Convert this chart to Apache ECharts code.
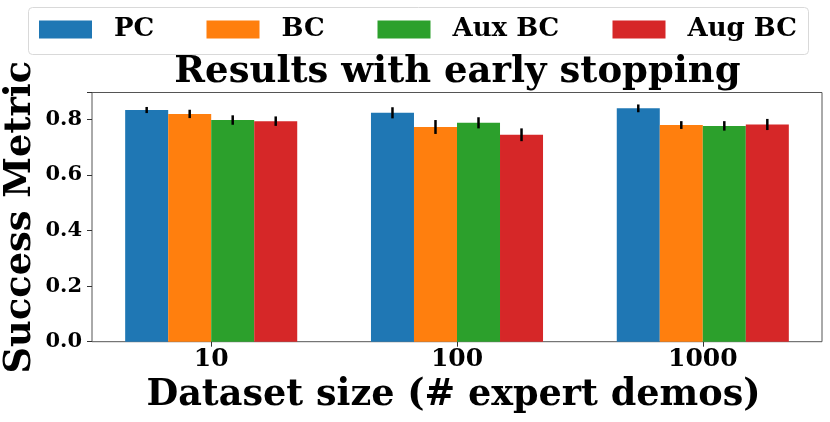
<!DOCTYPE html>
<html><head><meta charset="utf-8">
<script src="https://cdn.jsdelivr.net/npm/echarts@6/dist/echarts.min.js"></script>
<style>html,body{margin:0;padding:0;background:#fff}#c{width:830px;height:422px}</style>
</head><body><div id="c"></div>
<script>
var categories = ['10', '100', '1000'];
var seriesNames = ['PC', 'BC', 'Aux BC', 'Aug BC'];
var pcValues = [0.833, 0.823, 0.839];
var bcValues = [0.819, 0.772, 0.779];
var auxValues = [0.797, 0.787, 0.776];
var augValues = [0.793, 0.744, 0.781];
var pcErr = [0.011, 0.020, 0.014];
var bcErr = [0.015, 0.025, 0.014];
var auxErr = [0.017, 0.020, 0.017];
var augErr = [0.017, 0.023, 0.020];
var yTicks = ['0.0', '0.2', '0.4', '0.6', '0.8'];

var colors = ['#1f77b4', '#ff7f0e', '#2ca02c', '#d62728'];
var values = [pcValues, bcValues, auxValues, augValues];
var errs = [pcErr, bcErr, auxErr, augErr];
var FONT = '"DejaVu Serif", serif';
var BARFRAC = 0.175;
var YMAX = 0.896;

var series = [];
values.forEach(function (v, i) {
  series.push({
    name: seriesNames[i], type: 'bar', data: v, barWidth: (BARFRAC * 100) + '%', barGap: '0%',
    xAxisIndex: 0, yAxisIndex: 0,
    itemStyle: { color: colors[i] }, emphasis: { disabled: true }, z: 2
  });
});
values.forEach(function (v, i) {
  series.push({
    type: 'custom', name: 'err' + i, z: 5, xAxisIndex: 0, yAxisIndex: 0,
    data: v.map(function (val, j) { return [j, val - errs[i][j], val + errs[i][j]]; }),
    renderItem: function (params, api) {
      var band = api.size([1, 0])[0];
      var lo = api.coord([api.value(0), api.value(1)]);
      var hi = api.coord([api.value(0), api.value(2)]);
      var x = lo[0] + (i - 1.5) * band * BARFRAC;
      return { type: 'line', shape: { x1: x, y1: lo[1], x2: x, y2: hi[1] },
        style: { stroke: '#000', lineWidth: 2.5 } };
    },
    encode: { x: 0, y: [1, 2] }
  });
});

var legendLefts = [39, 206.5, 377.5, 612.5];
var legends = seriesNames.map(function (n, i) {
  return { data: [n], left: legendLefts[i], top: 16.5, padding: 0, itemWidth: 53, itemHeight: 18, icon: 'rect',
    selectedMode: false,
    textStyle: { fontFamily: FONT, fontWeight: 'bold', fontSize: 26, color: '#000', padding: [0, 0, 0, 17] } };
});

var chart = echarts.init(document.getElementById('c'), null, { renderer: 'canvas' });
chart.setOption({
  animation: false,
  color: colors,
  title: { text: 'Results with early stopping', left: 457.5, textAlign: 'center', top: 54, padding: 0,
    textStyle: { fontFamily: FONT, fontWeight: 'bold', fontSize: 37, color: '#000' } },
  legend: legends,
  graphic: [{ type: 'rect', shape: { x: 28.5, y: 7.5, width: 780, height: 47, r: 4 },
    style: { fill: 'none', stroke: '#d9d9d9', lineWidth: 1 }, z: 0 }],
  grid: [
    { left: 88.3, right: 4.3, top: 92.5, bottom: 80.3, outerBoundsMode: 'none', containLabel: false },
    { left: 92, right: 8, top: 92.5, bottom: 80.3, outerBoundsMode: 'none', containLabel: false,
      show: true, borderColor: '#555', borderWidth: 1, backgroundColor: 'transparent' }
  ],
  xAxis: [{
    gridIndex: 0, type: 'category', data: categories,
    name: 'Dataset size (# expert demos)', nameLocation: 'middle', nameGap: 33,
    nameTextStyle: { fontFamily: FONT, fontWeight: 'bold', fontSize: 36.6, color: '#000', padding: [0, 7, 0, 0] },
    axisLine: { show: false },
    axisTick: { show: true, alignWithLabel: true, length: 5, lineStyle: { color: '#333' } },
    axisLabel: { fontFamily: FONT, fontWeight: 'bold', fontSize: 25, color: '#000', margin: 5 }
  }, {
    gridIndex: 1, type: 'value', min: 0, max: 1, show: false
  }],
  yAxis: [{
    gridIndex: 0, type: 'value', min: 0, max: YMAX, show: false, splitLine: { show: false }
  }, {
    gridIndex: 1, type: 'value', min: 0, max: YMAX, interval: 0.2,
    name: 'Success Metric', nameLocation: 'middle', nameGap: 53, nameMoveOverlap: false,
    nameTextStyle: { fontFamily: FONT, fontWeight: 'bold', fontSize: 36.8, color: '#000' },
    splitLine: { show: false },
    axisLine: { show: false },
    axisTick: { show: true, length: 5, lineStyle: { color: '#333' } },
    axisLabel: { fontFamily: FONT, fontWeight: 'bold', fontSize: 21, color: '#000', margin: 10,
      formatter: function (v) { var k = Math.round(v / 0.2); return k < yTicks.length && Math.abs(v - k * 0.2) < 1e-6 ? yTicks[k] : ''; } }
  }],
  series: series
});
</script></body></html>
